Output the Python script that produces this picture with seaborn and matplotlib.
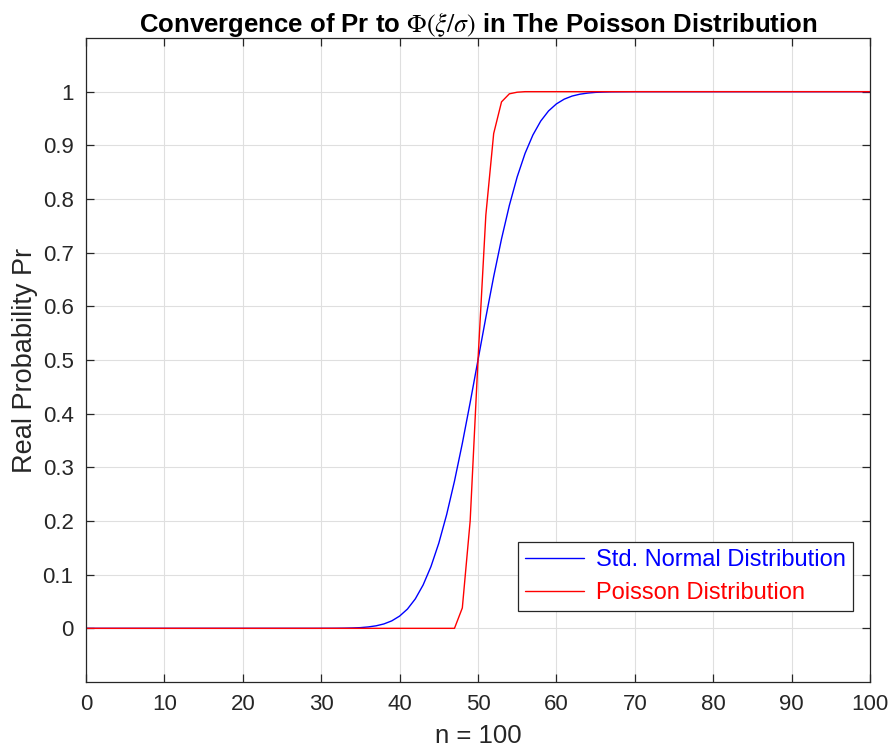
import numpy as np
import pandas as pd
import seaborn as sns
import matplotlib
matplotlib.use("Agg")
import matplotlib.pyplot as plt

# n values (x axis)
n_values = list(range(0, 101))

# Std. Normal Distribution values (x = 0..100)
normal_values = (
    [0.0] * 30 +
    [0.00003, 0.00007, 0.00016, 0.00034, 0.0007, 0.0013, 0.0026, 0.0047, 0.0082, 0.0139,
     0.0228, 0.0359, 0.0548, 0.0808, 0.1151, 0.1587, 0.2119, 0.2743, 0.3446, 0.4207,
     0.5, 0.5793, 0.6554, 0.7257, 0.7881, 0.8413, 0.8849, 0.9192, 0.9452, 0.9641,
     0.9772, 0.9861, 0.9918, 0.9953, 0.9974, 0.9987, 0.9993, 0.9997, 0.9998, 0.9999] +
    [1.0] * 31
)

# Poisson Distribution values (x = 0..100)
poisson_values = (
    [0.0] * 48 +
    [0.038, 0.2, 0.5, 0.77, 0.922, 0.981, 0.996, 0.999] +
    [1.0] * 45
)

series_names = ["Std. Normal Distribution", "Poisson Distribution"]
series_colors = ["#0000ff", "#ff0000"]

x_ticks = list(range(0, 101, 10))
y_ticks = [0, 0.1, 0.2, 0.3, 0.4, 0.5, 0.6, 0.7, 0.8, 0.9, 1]
y_tick_labels = ["0", "0.1", "0.2", "0.3", "0.4", "0.5", "0.6", "0.7", "0.8", "0.9", "1"]

df = pd.DataFrame({
    "n": n_values * 2,
    "Pr": normal_values + poisson_values,
    "series": [series_names[0]] * len(n_values) + [series_names[1]] * len(n_values),
})

sns.set_theme(style="white")
plt.rcParams["font.family"] = ["Liberation Sans", "DejaVu Sans"]
plt.rcParams["mathtext.fontset"] = "stix"

fig = plt.figure(figsize=(8.92, 7.56), dpi=100)
ax = fig.add_axes([86 / 892, 1 - 682 / 756, (870 - 86) / 892, (682 - 38) / 756])

sns.lineplot(data=df, x="n", y="Pr", hue="series", palette=series_colors,
             hue_order=series_names, linewidth=1.0, ax=ax, legend=True)

ax.set_xlim(0, 100)
ax.set_ylim(-0.1, 1.1)
ax.set_xticks(x_ticks)
ax.set_xticklabels([str(t) for t in x_ticks])
ax.set_yticks(y_ticks)
ax.set_yticklabels(y_tick_labels)
ax.grid(True, color="#dfdfdf", linewidth=0.8)
ax.set_axisbelow(True)
for s in ax.spines.values():
    s.set_color("#262626")
    s.set_linewidth(0.9)
ax.tick_params(direction="in", length=6, width=0.9, color="#262626",
               labelsize=16, labelcolor="#262626", top=True, right=True,
               bottom=True, left=True, pad=9)

ax.set_xlabel("n = 100", fontsize=18.5, color="#262626", labelpad=6)
ax.set_ylabel("Real Probability Pr", fontsize=19.5, color="#262626", labelpad=3)
ax.set_title(r"Convergence of Pr to $\Phi(\xi/\sigma)$ in The Poisson Distribution",
             fontsize=18.5, fontweight="bold", color="black", pad=4)

handles, labels = ax.get_legend_handles_labels()
leg = ax.legend(handles, labels, loc="lower right", bbox_to_anchor=(0.978, 0.110),
                borderaxespad=0, fontsize=17, frameon=True, fancybox=False,
                framealpha=1, edgecolor="#262626", handlelength=2.5, borderpad=0.3,
                labelspacing=0.45, handletextpad=0.5)
leg.get_frame().set_linewidth(0.9)
for txt, c in zip(leg.get_texts(), series_colors):
    txt.set_color(c)

fig.savefig("out.png", dpi=100)
